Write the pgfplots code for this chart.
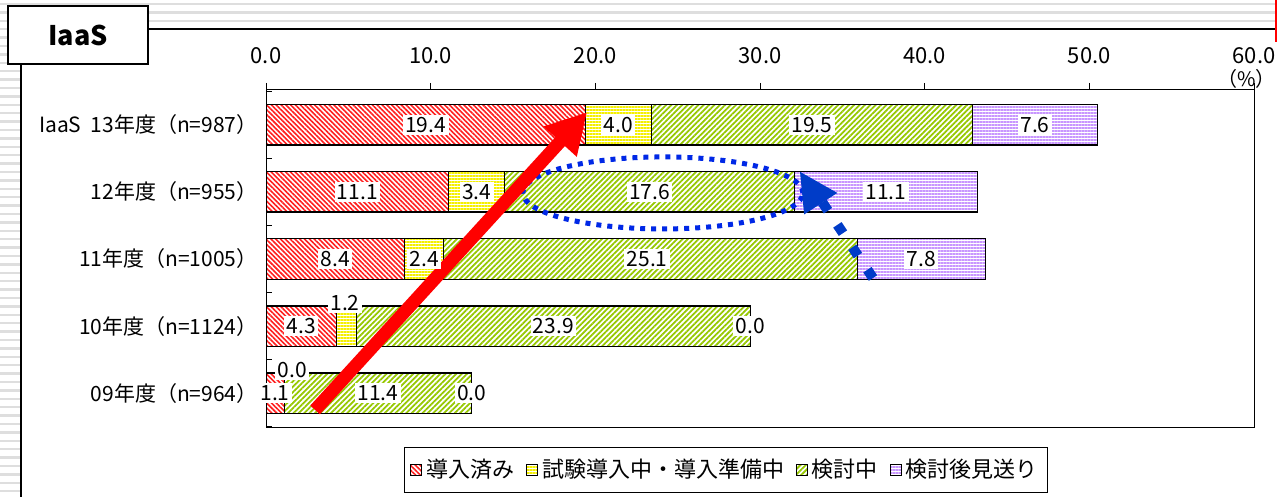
\documentclass[border=0pt]{standalone}
\usepackage{pgfplots}
\pgfplotsset{compat=1.18}
\usepackage{fontspec}
\setmainfont{Noto Sans CJK JP}
\usetikzlibrary{patterns.meta,arrows.meta}
\definecolor{cRed}{RGB}{255,30,30}
\definecolor{cYel}{RGB}{245,240,0}
\definecolor{cGrn}{RGB}{150,200,0}
\definecolor{cPur}{RGB}{200,150,255}
\definecolor{cBlue}{RGB}{0,40,230}
\definecolor{cBlue2}{RGB}{0,60,200}
\newcommand{\fs}[1]{\fontsize{#1}{#1}\selectfont}
\begin{document}
\begin{tikzpicture}
\useasboundingbox (0,0) rectangle (638.5pt,248.5pt);
\begin{scope}[shift={(0pt,248.5pt)},x=0.5pt,y=-0.5pt]
\fill[white] (0,0) rectangle (1277,497);
\foreach \i in {0,...,59} \draw[black!13, line width=1.2pt] (0,{4+8.4*\i}) -- (1277,{4+8.4*\i});
\fill[white] (21,29) rectangle (1277,497);
\draw[line width=0.8pt] (148,29) -- (1277,29);
\draw[line width=0.8pt] (21,64) -- (21,497);
\draw[red, line width=0.7pt] (1276,0) -- (1276,42);
\draw[line width=1.2pt, fill=white] (8,6) rectangle (148,64);
\node[font=\fs{13.5pt}\bfseries] at (78,35) {IaaS};
\end{scope}
\begin{axis}[
  at={(133pt,34.5pt)}, anchor=south west, scale only axis,
  width=494pt, height=169pt,
  xbar stacked, bar width=0.6,
  xmin=0, xmax=60, ymin=-0.52, ymax=4.52,
  xtick={0,10,...,60},
  xticklabels={0.0,10.0,20.0,30.0,40.0,50.0,60.0},
  xticklabel pos=upper, xtick pos=upper,
  tick align=inside,
  major tick length=3.5pt,
  x tick style={yshift=3.5pt, black, line width=0.5pt},
  xticklabel style={anchor=base, yshift=13pt, inner sep=0pt, font=\fs{11pt}},
  ytick={0,1,2,3,4},
  yticklabels={09年度（n=964）,10年度（n=1124）,11年度（n=1005）,12年度（n=955）,IaaS\ \ 13年度（n=987）},
  ytick pos=left,
  major y tick style={draw=none},
  minor ytick={-0.5,0.5,1.5,2.5,3.5,4.5},
  minor tick length=3pt,
  minor y tick style={black, line width=0.5pt},
  yticklabel style={anchor=east, inner sep=0pt, xshift=-4pt, font=\fs{10.5pt}},
  axis line style={line width=0.5pt},
  /pgf/number format/assume math mode=true,
  legend style={at={(0.4656,-0.124)}, anchor=center, legend columns=4, draw=black, line width=0.5pt,
    font=\fs{11pt}, inner xsep=3pt, inner ysep=4pt,
    /tikz/every even column/.append style={column sep=4pt}},
  legend image code/.code={\draw[#1, draw=black, line width=0.5pt] (0pt,-2.7pt) rectangle (5.4pt,2.7pt);},
]
\addplot[draw=black, line width=0.6pt, pattern={Lines[angle=-45,distance=1.7pt,line width=0.8pt]}, pattern color=cRed]
  coordinates {(1.1,0) (4.3,1) (8.4,2) (11.1,3) (19.4,4)};
\addlegendentry{導入済み}
\addplot[draw=black, line width=0.6pt, pattern={Lines[angle=0,distance=1.5pt,line width=0.75pt]}, pattern color=cYel]
  coordinates {(0.0,0) (1.2,1) (2.4,2) (3.4,3) (4.0,4)};
\addlegendentry{試験導入中・導入準備中}
\addplot[draw=black, line width=0.6pt, pattern={Lines[angle=45,distance=1.9pt,line width=0.9pt]}, pattern color=cGrn]
  coordinates {(11.4,0) (23.9,1) (25.1,2) (17.6,3) (19.5,4)};
\addlegendentry{検討中}
\addplot[draw=black, line width=0.6pt, pattern={Lines[angle=0,distance=1.5pt,line width=0.75pt]}, pattern color=cPur]
  coordinates {(0.0,0) (0.0,1) (7.8,2) (11.1,3) (7.6,4)};
\addlegendentry{検討後見送り}
\end{axis}
\begin{axis}[
  at={(133pt,34.5pt)}, anchor=south west, scale only axis,
  width=494pt, height=169pt,
  xmin=0, xmax=60, ymin=-0.52, ymax=4.52,
  hide axis, clip=false,
]
\addplot[draw=none, mark=none, nodes near coords, point meta=explicit symbolic,
  every node near coord/.append style={anchor=center, fill=white, inner sep=1.2pt, font=\fs{10.5pt}}]
  table[meta=l] {
x y l
9.7 4 19.4
21.4 4 4.0
33.15 4 19.5
46.7 4 7.6
5.55 3 11.1
12.8 3 3.4
23.3 3 17.6
37.65 3 11.1
4.2 2 8.4
9.6 2 2.4
23.15 2 25.1
39.8 2 7.8
2.15 1 4.3
4.8 1.35 1.2
17.45 1 23.9
29.4 1 0.0
0.55 0 1.1
1.6 0.34 0.0
6.8 0 11.4
12.5 0 0.0
};
\node[font=\fs{10pt}, anchor=east, inner sep=0pt] at (rel axis cs:1.0225,1.0325) {（\%）};
\draw[cBlue, line width=2.5pt, dash pattern=on 2.5pt off 3pt] (axis cs:24.1,2.985) ellipse [x radius=70pt, y radius=18pt];
\draw[cBlue2, line width=5pt, dash pattern=on 5pt off 8.5pt] (axis cs:36.86,1.716) -- (axis cs:33.5,2.95);
\draw[cBlue2, line width=1pt, -{Triangle[length=19pt,width=19.5pt]}] (axis cs:33.70,2.82) -- (axis cs:32.43,3.30);
\draw[red, line width=6.5pt, -{Triangle[length=20pt,width=21pt]}] (axis cs:2.98,-0.25) -- (axis cs:19.5,4.19);
\end{axis}
\end{tikzpicture}
\end{document}
